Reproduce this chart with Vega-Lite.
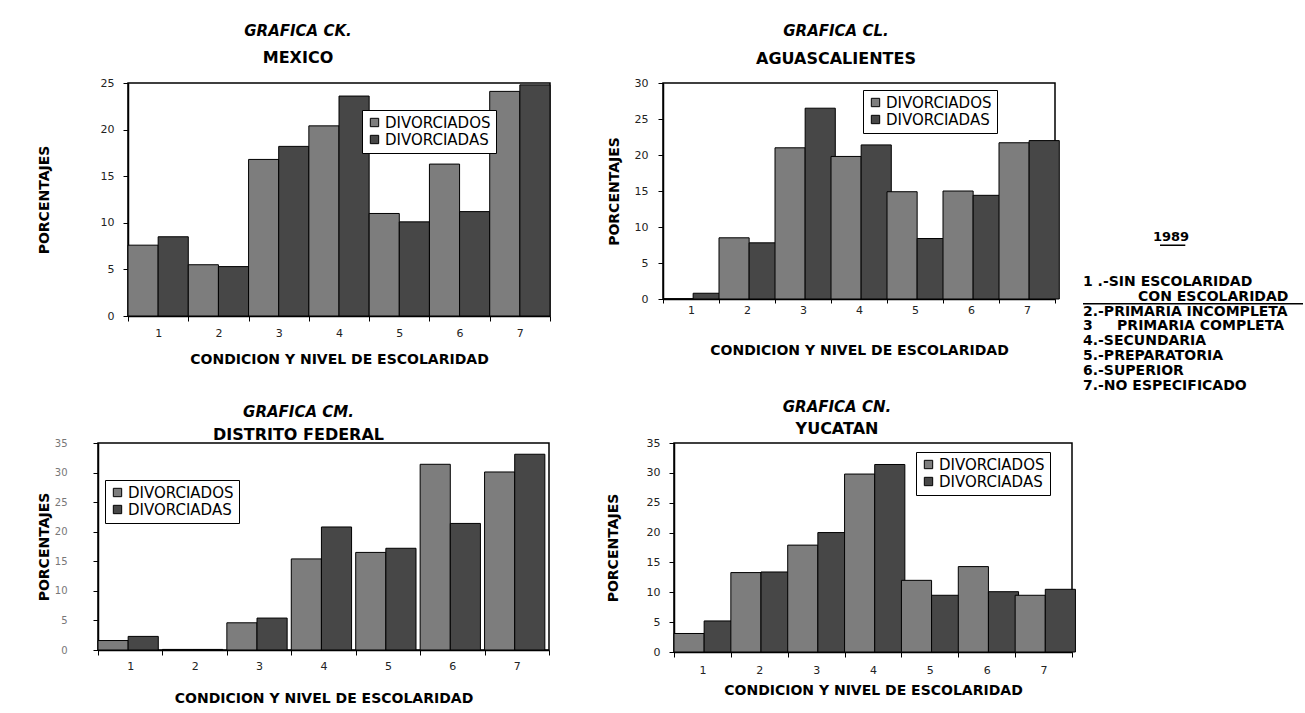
{
  "$schema": "https://vega.github.io/schema/vega-lite/v6.json",
  "background": "white",
  "padding": {"left": 6, "top": 23, "right": 0, "bottom": 0},
  "datasets": {
    "mexico": [
      {"nivel": "1", "sexo": "DIVORCIADOS", "pct": 7.6}, {"nivel": "1", "sexo": "DIVORCIADAS", "pct": 8.5},
      {"nivel": "2", "sexo": "DIVORCIADOS", "pct": 5.5}, {"nivel": "2", "sexo": "DIVORCIADAS", "pct": 5.3},
      {"nivel": "3", "sexo": "DIVORCIADOS", "pct": 16.8}, {"nivel": "3", "sexo": "DIVORCIADAS", "pct": 18.2},
      {"nivel": "4", "sexo": "DIVORCIADOS", "pct": 20.4}, {"nivel": "4", "sexo": "DIVORCIADAS", "pct": 23.6},
      {"nivel": "5", "sexo": "DIVORCIADOS", "pct": 11.0}, {"nivel": "5", "sexo": "DIVORCIADAS", "pct": 10.1},
      {"nivel": "6", "sexo": "DIVORCIADOS", "pct": 16.3}, {"nivel": "6", "sexo": "DIVORCIADAS", "pct": 11.2},
      {"nivel": "7", "sexo": "DIVORCIADOS", "pct": 24.1}, {"nivel": "7", "sexo": "DIVORCIADAS", "pct": 24.8}
    ],
    "aguascalientes": [
      {"nivel": "1", "sexo": "DIVORCIADOS", "pct": 0.0}, {"nivel": "1", "sexo": "DIVORCIADAS", "pct": 0.8},
      {"nivel": "2", "sexo": "DIVORCIADOS", "pct": 8.5}, {"nivel": "2", "sexo": "DIVORCIADAS", "pct": 7.8},
      {"nivel": "3", "sexo": "DIVORCIADOS", "pct": 21.0}, {"nivel": "3", "sexo": "DIVORCIADAS", "pct": 26.5},
      {"nivel": "4", "sexo": "DIVORCIADOS", "pct": 19.8}, {"nivel": "4", "sexo": "DIVORCIADAS", "pct": 21.4},
      {"nivel": "5", "sexo": "DIVORCIADOS", "pct": 14.9}, {"nivel": "5", "sexo": "DIVORCIADAS", "pct": 8.4},
      {"nivel": "6", "sexo": "DIVORCIADOS", "pct": 15.0}, {"nivel": "6", "sexo": "DIVORCIADAS", "pct": 14.4},
      {"nivel": "7", "sexo": "DIVORCIADOS", "pct": 21.7}, {"nivel": "7", "sexo": "DIVORCIADAS", "pct": 22.0}
    ],
    "df": [
      {"nivel": "1", "sexo": "DIVORCIADOS", "pct": 1.6}, {"nivel": "1", "sexo": "DIVORCIADAS", "pct": 2.3},
      {"nivel": "2", "sexo": "DIVORCIADOS", "pct": 0.1}, {"nivel": "2", "sexo": "DIVORCIADAS", "pct": 0.1},
      {"nivel": "3", "sexo": "DIVORCIADOS", "pct": 4.6}, {"nivel": "3", "sexo": "DIVORCIADAS", "pct": 5.4},
      {"nivel": "4", "sexo": "DIVORCIADOS", "pct": 15.4}, {"nivel": "4", "sexo": "DIVORCIADAS", "pct": 20.8},
      {"nivel": "5", "sexo": "DIVORCIADOS", "pct": 16.5}, {"nivel": "5", "sexo": "DIVORCIADAS", "pct": 17.2},
      {"nivel": "6", "sexo": "DIVORCIADOS", "pct": 31.4}, {"nivel": "6", "sexo": "DIVORCIADAS", "pct": 21.4},
      {"nivel": "7", "sexo": "DIVORCIADOS", "pct": 30.1}, {"nivel": "7", "sexo": "DIVORCIADAS", "pct": 33.1}
    ],
    "yucatan": [
      {"nivel": "1", "sexo": "DIVORCIADOS", "pct": 3.1}, {"nivel": "1", "sexo": "DIVORCIADAS", "pct": 5.2},
      {"nivel": "2", "sexo": "DIVORCIADOS", "pct": 13.3}, {"nivel": "2", "sexo": "DIVORCIADAS", "pct": 13.4},
      {"nivel": "3", "sexo": "DIVORCIADOS", "pct": 17.9}, {"nivel": "3", "sexo": "DIVORCIADAS", "pct": 20.0},
      {"nivel": "4", "sexo": "DIVORCIADOS", "pct": 29.8}, {"nivel": "4", "sexo": "DIVORCIADAS", "pct": 31.4},
      {"nivel": "5", "sexo": "DIVORCIADOS", "pct": 12.0}, {"nivel": "5", "sexo": "DIVORCIADAS", "pct": 9.5},
      {"nivel": "6", "sexo": "DIVORCIADOS", "pct": 14.3}, {"nivel": "6", "sexo": "DIVORCIADAS", "pct": 10.1},
      {"nivel": "7", "sexo": "DIVORCIADOS", "pct": 9.5}, {"nivel": "7", "sexo": "DIVORCIADAS", "pct": 10.5}
    ],
    "claves": [
      {"orden": 3, "texto": "1 .-SIN ESCOLARIDAD"},
      {"orden": 4, "texto": "CON ESCOLARIDAD"},
      {"orden": 5, "texto": "2.-PRIMARIA INCOMPLETA"},
      {"orden": 6, "texto": "3\u00a0\u00a0\u00a0\u00a0\u00a0PRIMARIA COMPLETA"},
      {"orden": 7, "texto": "4.-SECUNDARIA"},
      {"orden": 8, "texto": "5.-PREPARATORIA"},
      {"orden": 9, "texto": "6.-SUPERIOR"},
      {"orden": 10, "texto": "7.-NO ESPECIFICADO"}
    ]
  },
  "config": {
    "font": "DejaVu Sans",
    "view": {"stroke": "black", "strokeWidth": 1.5},
    "axis": {"domainColor": "black", "domainWidth": 1.5, "tickColor": "black", "tickWidth": 1, "tickSize": 5, "labelColor": "#222", "labelFont": "DejaVu Sans", "labelFontSize": 11, "titleFont": "DejaVu Sans", "titleFontSize": 14, "titleFontWeight": "bold", "titleColor": "black", "grid": false},
    "title": {"font": "DejaVu Sans", "fontSize": 15, "fontStyle": "italic", "fontWeight": "bold", "color": "black", "subtitleFont": "DejaVu Sans", "subtitleFontSize": 16, "subtitleFontWeight": "bold", "subtitleFontStyle": "normal", "subtitleColor": "black", "anchor": "middle", "frame": "group"},
    "legend": {"orient": "none", "title": null, "strokeColor": "black", "fillColor": "white", "padding": 5, "symbolType": "square", "symbolSize": 70, "symbolStrokeColor": "black", "symbolStrokeWidth": 1, "labelFont": "DejaVu Sans", "labelFontSize": 15, "labelColor": "black", "rowPadding": 1, "labelOffset": 3},
    "bar": {"stroke": "black", "strokeWidth": 1}
  },
  "resolve": {"scale": {"color": "independent"}, "legend": {"color": "independent"}},
  "spacing": 5,
  "hconcat": [
    {
      "spacing": 32,
      "resolve": {"scale": {"color": "independent"}, "legend": {"color": "independent"}},
      "vconcat": [
        {
          "spacing": 29,
          "resolve": {"scale": {"color": "independent"}, "legend": {"color": "independent"}},
          "hconcat": [
            {"width": 1, "height": 1, "view": {"stroke": null}, "data": {"values": []}, "mark": "point", "encoding": {}},
            {
              "spacing": 54,
              "resolve": {"scale": {"color": "independent"}, "legend": {"color": "independent"}},
              "hconcat": [
                {
                  "data": {"name": "mexico"},
                  "title": {"text": "GRAFICA CK.", "subtitle": "MEXICO", "dx": -41, "offset": 11, "subtitlePadding": 11},
                  "width": 422, "height": 233,
                  "mark": "bar",
                  "encoding": {
                    "x": {"field": "nivel", "type": "ordinal", "scale": {"paddingInner": 0, "paddingOuter": 0}, "axis": {"title": "CONDICION Y NIVEL DE ESCOLARIDAD", "labelAngle": 0, "tickBand": "extent", "labelPadding": 6, "titlePadding": 14}},
                    "xOffset": {"field": "sexo", "sort": ["DIVORCIADOS", "DIVORCIADAS"], "scale": {"paddingInner": 0, "paddingOuter": 0}},
                    "y": {"field": "pct", "type": "quantitative", "scale": {"domain": [0, 25]}, "axis": {"values": [0, 5, 10, 15, 20, 25], "title": "PORCENTAJES", "titlePadding": 49, "labelPadding": 9}},
                    "color": {"field": "sexo", "type": "nominal", "scale": {"domain": ["DIVORCIADOS", "DIVORCIADAS"], "range": ["#7d7d7d", "#474747"]}, "legend": {"legendX": 234, "legendY": 27}}
                  }
                },
                {
                  "data": {"name": "aguascalientes"},
                  "title": {"text": "GRAFICA CL.", "subtitle": "AGUASCALIENTES", "dx": -23, "offset": 10, "subtitlePadding": 12},
                  "width": 392, "height": 216,
                  "mark": "bar",
                  "encoding": {
                    "x": {"field": "nivel", "type": "ordinal", "scale": {"paddingInner": 0, "paddingOuter": 0}, "axis": {"title": "CONDICION Y NIVEL DE ESCOLARIDAD", "labelAngle": 0, "tickBand": "extent", "tickSize": 4, "labelPadding": 1, "titlePadding": 28}},
                    "xOffset": {"field": "sexo", "sort": ["DIVORCIADOS", "DIVORCIADAS"], "scale": {"paddingInner": 0, "paddingOuter": 0}},
                    "y": {"field": "pct", "type": "quantitative", "scale": {"domain": [0, 30]}, "axis": {"values": [0, 5, 10, 15, 20, 25, 30], "title": "PORCENTAJES", "titlePadding": 13, "labelPadding": 10}},
                    "color": {"field": "sexo", "type": "nominal", "scale": {"domain": ["DIVORCIADOS", "DIVORCIADAS"], "range": ["#7d7d7d", "#474747"]}, "legend": {"legendX": 200, "legendY": 7}}
                  }
                }
              ]
            }
          ]
        },
        {
          "spacing": 29,
          "resolve": {"scale": {"color": "independent"}, "legend": {"color": "independent"}},
          "hconcat": [
            {"width": 1, "height": 1, "view": {"stroke": null}, "data": {"values": []}, "mark": "point", "encoding": {}},
            {
              "spacing": 54,
              "resolve": {"scale": {"color": "independent"}, "legend": {"color": "independent"}},
              "hconcat": [
                {
                  "data": {"name": "df"},
                  "title": {"text": "GRAFICA CM.", "subtitle": "DISTRITO FEDERAL", "dx": -25, "offset": -5, "subtitlePadding": 7},
                  "width": 451, "height": 207,
                  "mark": "bar",
                  "encoding": {
                    "x": {"field": "nivel", "type": "ordinal", "scale": {"paddingInner": 0, "paddingOuter": 0}, "axis": {"title": "CONDICION Y NIVEL DE ESCOLARIDAD", "labelAngle": 0, "tickBand": "extent", "labelPadding": 5, "titlePadding": 20}},
                    "xOffset": {"field": "sexo", "sort": ["DIVORCIADOS", "DIVORCIADAS"], "scale": {"paddingInner": 0, "paddingOuter": 0}},
                    "y": {"field": "pct", "type": "quantitative", "scale": {"domain": [0, 35]}, "axis": {"values": [0, 5, 10, 15, 20, 25, 30, 35], "title": "PORCENTAJES", "titlePadding": 3, "labelPadding": 26, "labelFontSize": 10, "labelColor": "#777"}},
                    "color": {"field": "sexo", "type": "nominal", "scale": {"domain": ["DIVORCIADOS", "DIVORCIADAS"], "range": ["#7d7d7d", "#474747"]}, "legend": {"legendX": 7, "legendY": 37}}
                  }
                },
                {
                  "data": {"name": "yucatan"},
                  "title": {"text": "GRAFICA CN.", "subtitle": "YUCATAN", "dx": -36, "offset": 0, "subtitlePadding": 6},
                  "width": 398, "height": 209,
                  "mark": "bar",
                  "encoding": {
                    "x": {"field": "nivel", "type": "ordinal", "scale": {"paddingInner": 0, "paddingOuter": 0}, "axis": {"title": "CONDICION Y NIVEL DE ESCOLARIDAD", "labelAngle": 0, "tickBand": "extent", "labelPadding": 7, "titlePadding": 8}},
                    "xOffset": {"field": "sexo", "sort": ["DIVORCIADOS", "DIVORCIADAS"], "scale": {"paddingInner": 0, "paddingOuter": 0}},
                    "y": {"field": "pct", "type": "quantitative", "scale": {"domain": [0, 35]}, "axis": {"values": [0, 5, 10, 15, 20, 25, 30, 35], "title": "PORCENTAJES", "titlePadding": 26, "labelPadding": 9}},
                    "color": {"field": "sexo", "type": "nominal", "scale": {"domain": ["DIVORCIADOS", "DIVORCIADAS"], "range": ["#7d7d7d", "#474747"]}, "legend": {"legendX": 242, "legendY": 9}}
                  }
                }
              ]
            }
          ]
        }
      ]
    },
    {
      "width": 220, "height": 320,
      "view": {"stroke": null},
      "layer": [
        {
          "data": {"values": [{"orden": 0, "texto": "1989"}]},
          "mark": {"type": "text", "align": "center", "baseline": "middle", "fontSize": 13, "fontWeight": "bold", "font": "DejaVu Sans", "color": "black"},
          "encoding": {
            "x": {"datum": 0.4, "type": "quantitative", "scale": {"domain": [0, 1], "nice": false}, "axis": null},
            "y": {"field": "orden", "type": "quantitative", "scale": {"domain": [-10.34, 11.14], "reverse": true, "nice": false, "zero": false}, "axis": null},
            "text": {"field": "texto"}
          }
        },
        {
          "data": {"name": "claves"},
          "transform": [{"filter": "datum.orden != 4"}],
          "mark": {"type": "text", "align": "left", "baseline": "middle", "fontSize": 14, "fontWeight": "bold", "font": "DejaVu Sans", "color": "black"},
          "encoding": {
            "x": {"datum": 0, "type": "quantitative"},
            "y": {"field": "orden", "type": "quantitative"},
            "text": {"field": "texto"}
          }
        },
        {
          "data": {"name": "claves"},
          "transform": [{"filter": "datum.orden == 4"}],
          "mark": {"type": "text", "align": "left", "baseline": "middle", "fontSize": 14, "fontWeight": "bold", "font": "DejaVu Sans", "color": "black"},
          "encoding": {
            "x": {"datum": 0.25, "type": "quantitative"},
            "y": {"field": "orden", "type": "quantitative"},
            "text": {"field": "texto"}
          }
        },
        {
          "data": {"values": [{"linea": "1989"}]},
          "mark": {"type": "rule", "color": "black", "strokeWidth": 1.5},
          "encoding": {
            "x": {"datum": 0.35, "type": "quantitative"},
            "x2": {"datum": 0.465},
            "y": {"datum": 0.55, "type": "quantitative"}
          }
        },
        {
          "data": {"values": [{"linea": "con escolaridad"}]},
          "mark": {"type": "rule", "color": "black", "strokeWidth": 1.5},
          "encoding": {
            "x": {"datum": 0.0, "type": "quantitative"},
            "x2": {"datum": 1.0},
            "y": {"datum": 4.47, "type": "quantitative"}
          }
        }
      ]
    }
  ]
}
